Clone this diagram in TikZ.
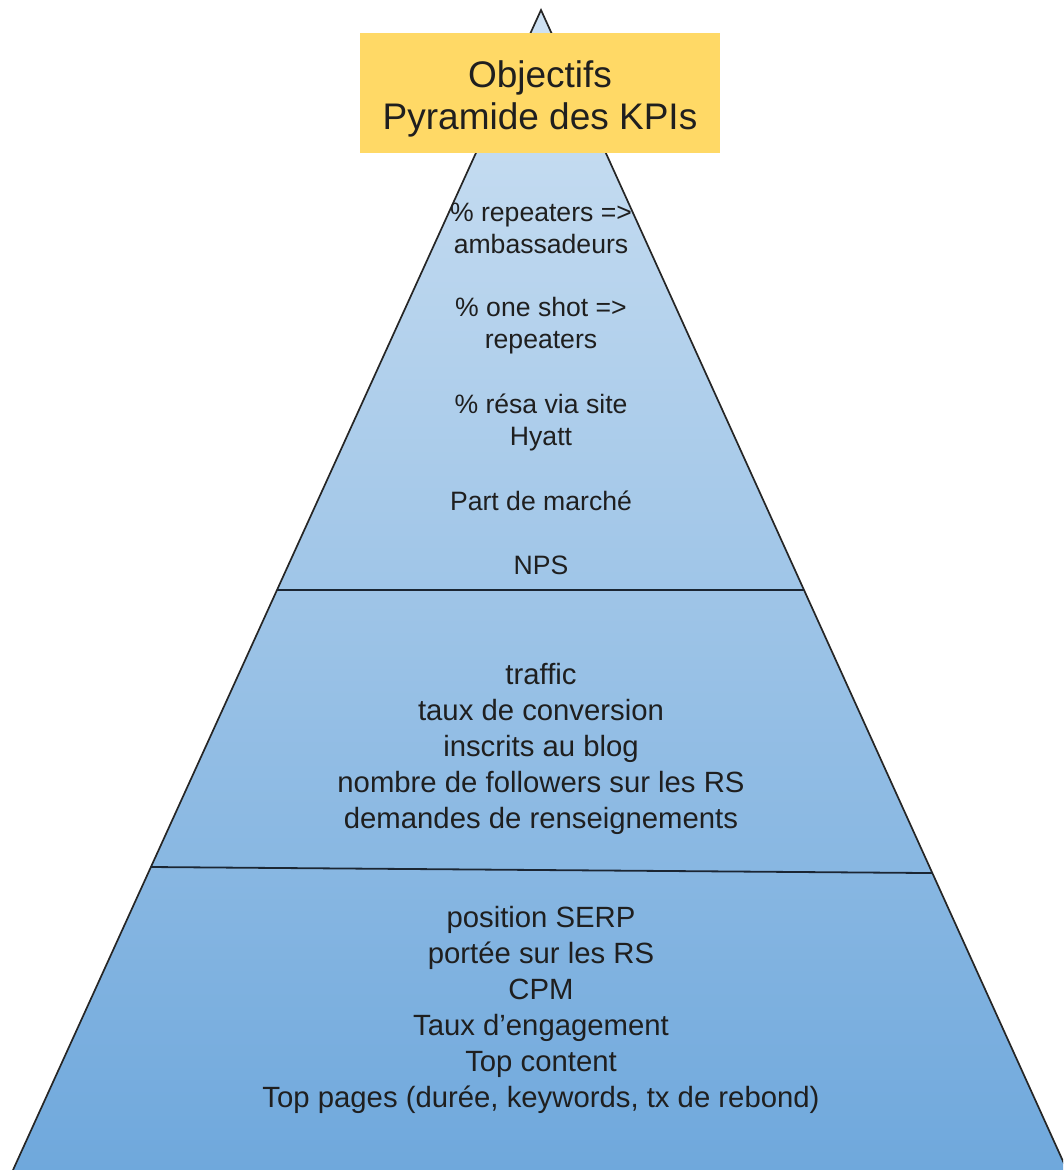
\documentclass[tikz,border=0pt]{standalone}
\usepackage{fontspec}
\setmainfont{Liberation Sans}
\usepackage{xcolor}
\usepackage{tikz}
\usetikzlibrary{calc}
\definecolor{apexblue}{HTML}{CFE2F3}
\definecolor{baseblue}{HTML}{6FA8DC}
\definecolor{gold}{HTML}{FFD966}
\definecolor{ink}{HTML}{1F1F1F}
\definecolor{rule}{HTML}{1B2633}
\tikzset{
  side/.style={draw=black!85, line width=1.7pt},
  tier/.style={draw=rule, line width=1.8pt},
  kpi/.style={text=ink, align=center, font=\fontsize{26.6}{32}\selectfont},
  kpibig/.style={text=ink, align=center, font=\fontsize{29.3}{36}\selectfont},
  titlebox/.style={fill=gold, minimum width=360pt, minimum height=120pt},
  titletext/.style={text=ink, align=center, font=\fontsize{37}{42}\selectfont}
}

\begin{document}
\begin{tikzpicture}[x=1pt, y=-1pt]
\useasboundingbox (0,0) rectangle (1063,1170);
\clip (0,0) rectangle (1063,1170);
% pyramid
\coordinate (apex) at (541,10);
\coordinate (bl) at (13,1170);
\coordinate (br) at (1067,1170);
\shade[top color=apexblue, bottom color=baseblue] (apex) -- (bl) -- (br) -- cycle;
\draw[side] (bl) -- (apex) -- (br);
% tiers
\draw[tier] ($(apex)!0.5!(bl)$) -- ($(apex)!0.5!(br)$);
\draw[tier] ($(apex)!0.7388!(bl)$) -- ($(apex)!0.744!(br)$);
% title
\node[titlebox] (title) at (540,93) {};
\node[titletext] (titlelbl) at (540,99) {Objectifs\\Pyramide des KPIs};
% top tier
\node[kpi] (repeat) at (541,228) {\% repeaters =>\\ambassadeurs};
\node[kpi] (oneshot) at (541,326) {\% one shot =>\\repeaters};
\node[kpi] (resa) at (541,422) {\% résa via site\\Hyatt};
\node[kpi] (part) at (541,501) {Part de marché};
\node[kpi] (nps) at (541,565) {NPS};
% middle tier
\node[kpibig] (conv) at (541,749) {traffic\\taux de conversion\\inscrits au blog\\nombre de followers sur les RS\\demandes de renseignements};
% bottom tier
\node[kpibig] (reach) at (541,1010) {position SERP\\portée sur les RS\\CPM\\Taux d’engagement\\Top content\\Top pages (durée, keywords, tx de rebond)};
\end{tikzpicture}
\end{document}
